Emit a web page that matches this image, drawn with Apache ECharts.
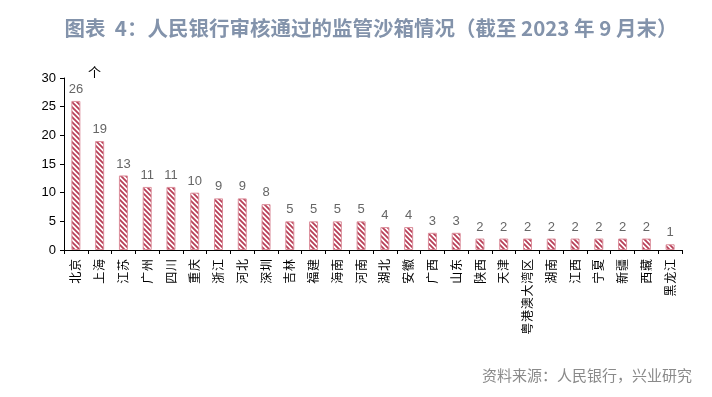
<!DOCTYPE html>
<html>
<head>
<meta charset="utf-8">
<script src="https://cdn.jsdelivr.net/npm/echarts@6/dist/echarts.min.js"></script>
<style>
html,body{margin:0;padding:0;background:#fff;}
#chart{width:712px;height:397px;}
</style>
</head>
<body>
<div id="chart"></div>
<script>
var categories = ['北京','上海','江苏','广州','四川','重庆','浙江','河北','深圳','吉林','福建','海南','河南','湖北','安徽','广西','山东','陕西','天津','粤港澳大湾区','湖南','江西','宁夏','新疆','西藏','黑龙江'];
var values = [26,19,13,11,11,10,9,9,8,5,5,5,5,4,4,3,3,2,2,2,2,2,2,2,2,1];
var yTicks = [0,5,10,15,20,25,30];

function makePattern(){
  var s = 5;
  var c = document.createElement('canvas');
  c.width = s; c.height = s;
  var g = c.getContext('2d');
  g.fillStyle = '#ffffff';
  g.fillRect(0,0,s,s);
  g.strokeStyle = '#b83f57';
  g.lineWidth = 1.8;
  g.beginPath();
  g.moveTo(-1,-1); g.lineTo(s+1,s+1);
  g.moveTo(-1,s-1); g.lineTo(1,s+1);
  g.moveTo(s-1,-1); g.lineTo(s+1,1);
  g.stroke();
  return c;
}

var chart = echarts.init(document.getElementById('chart'), null, {renderer:'canvas'});
var font = '"Noto Sans CJK SC", "Noto Sans", sans-serif';
chart.setOption({
  backgroundColor:'#ffffff',
  animation:false,
  title:{
    text:'图表  4：人民银行审核通过的监管沙箱情况（截至 2023 年 9 月末）',
    left:366, top:13, textAlign:'center',
    textStyle:{fontFamily:font, fontSize:20.5, fontWeight:'bold', color:'#8393ab'}
  },
  grid:{left:64, right:30, top:78, bottom:147, containLabel:false},
  xAxis:{
    type:'category',
    data:categories,
    boundaryGap:true,
    axisLine:{lineStyle:{color:'#000', width:1}},
    axisTick:{show:true, alignWithLabel:false, length:4, lineStyle:{color:'#000'}},
    axisLabel:{rotate:90, interval:0, fontFamily:font, fontSize:12, color:'#000', margin:9,
      formatter:function(v){ return v.split('').join('\u200a'); }}
  },
  yAxis:{
    type:'value',
    min:0, max:30, interval:5,
    axisLine:{show:true, lineStyle:{color:'#000', width:1}},
    axisTick:{show:true, inside:false, length:4, lineStyle:{color:'#000'}},
    splitLine:{show:false},
    axisLabel:{fontFamily:'"Liberation Sans Narrow", "Liberation Sans", sans-serif', fontSize:13, color:'#000', margin:8}
  },
  graphic:[
    {type:'text', left:88, top:66, style:{text:'个', font:'13px '+font, fill:'#000'}},
    {type:'text', right:20, top:368, style:{text:'资料来源：人民银行，兴业研究', font:'15px '+font, fill:'#8a8a8a'}}
  ],
  series:[{
    type:'bar',
    data:values,
    barWidth:9,
    itemStyle:{
      color:{image:makePattern(), repeat:'repeat'},
      borderColor:'#dc8f9c',
      borderWidth:1
    },
    label:{show:true, position:'top', distance:5, fontFamily:'"Liberation Sans", sans-serif', fontSize:13, color:'#666666'}
  }]
});
</script>
</body>
</html>
